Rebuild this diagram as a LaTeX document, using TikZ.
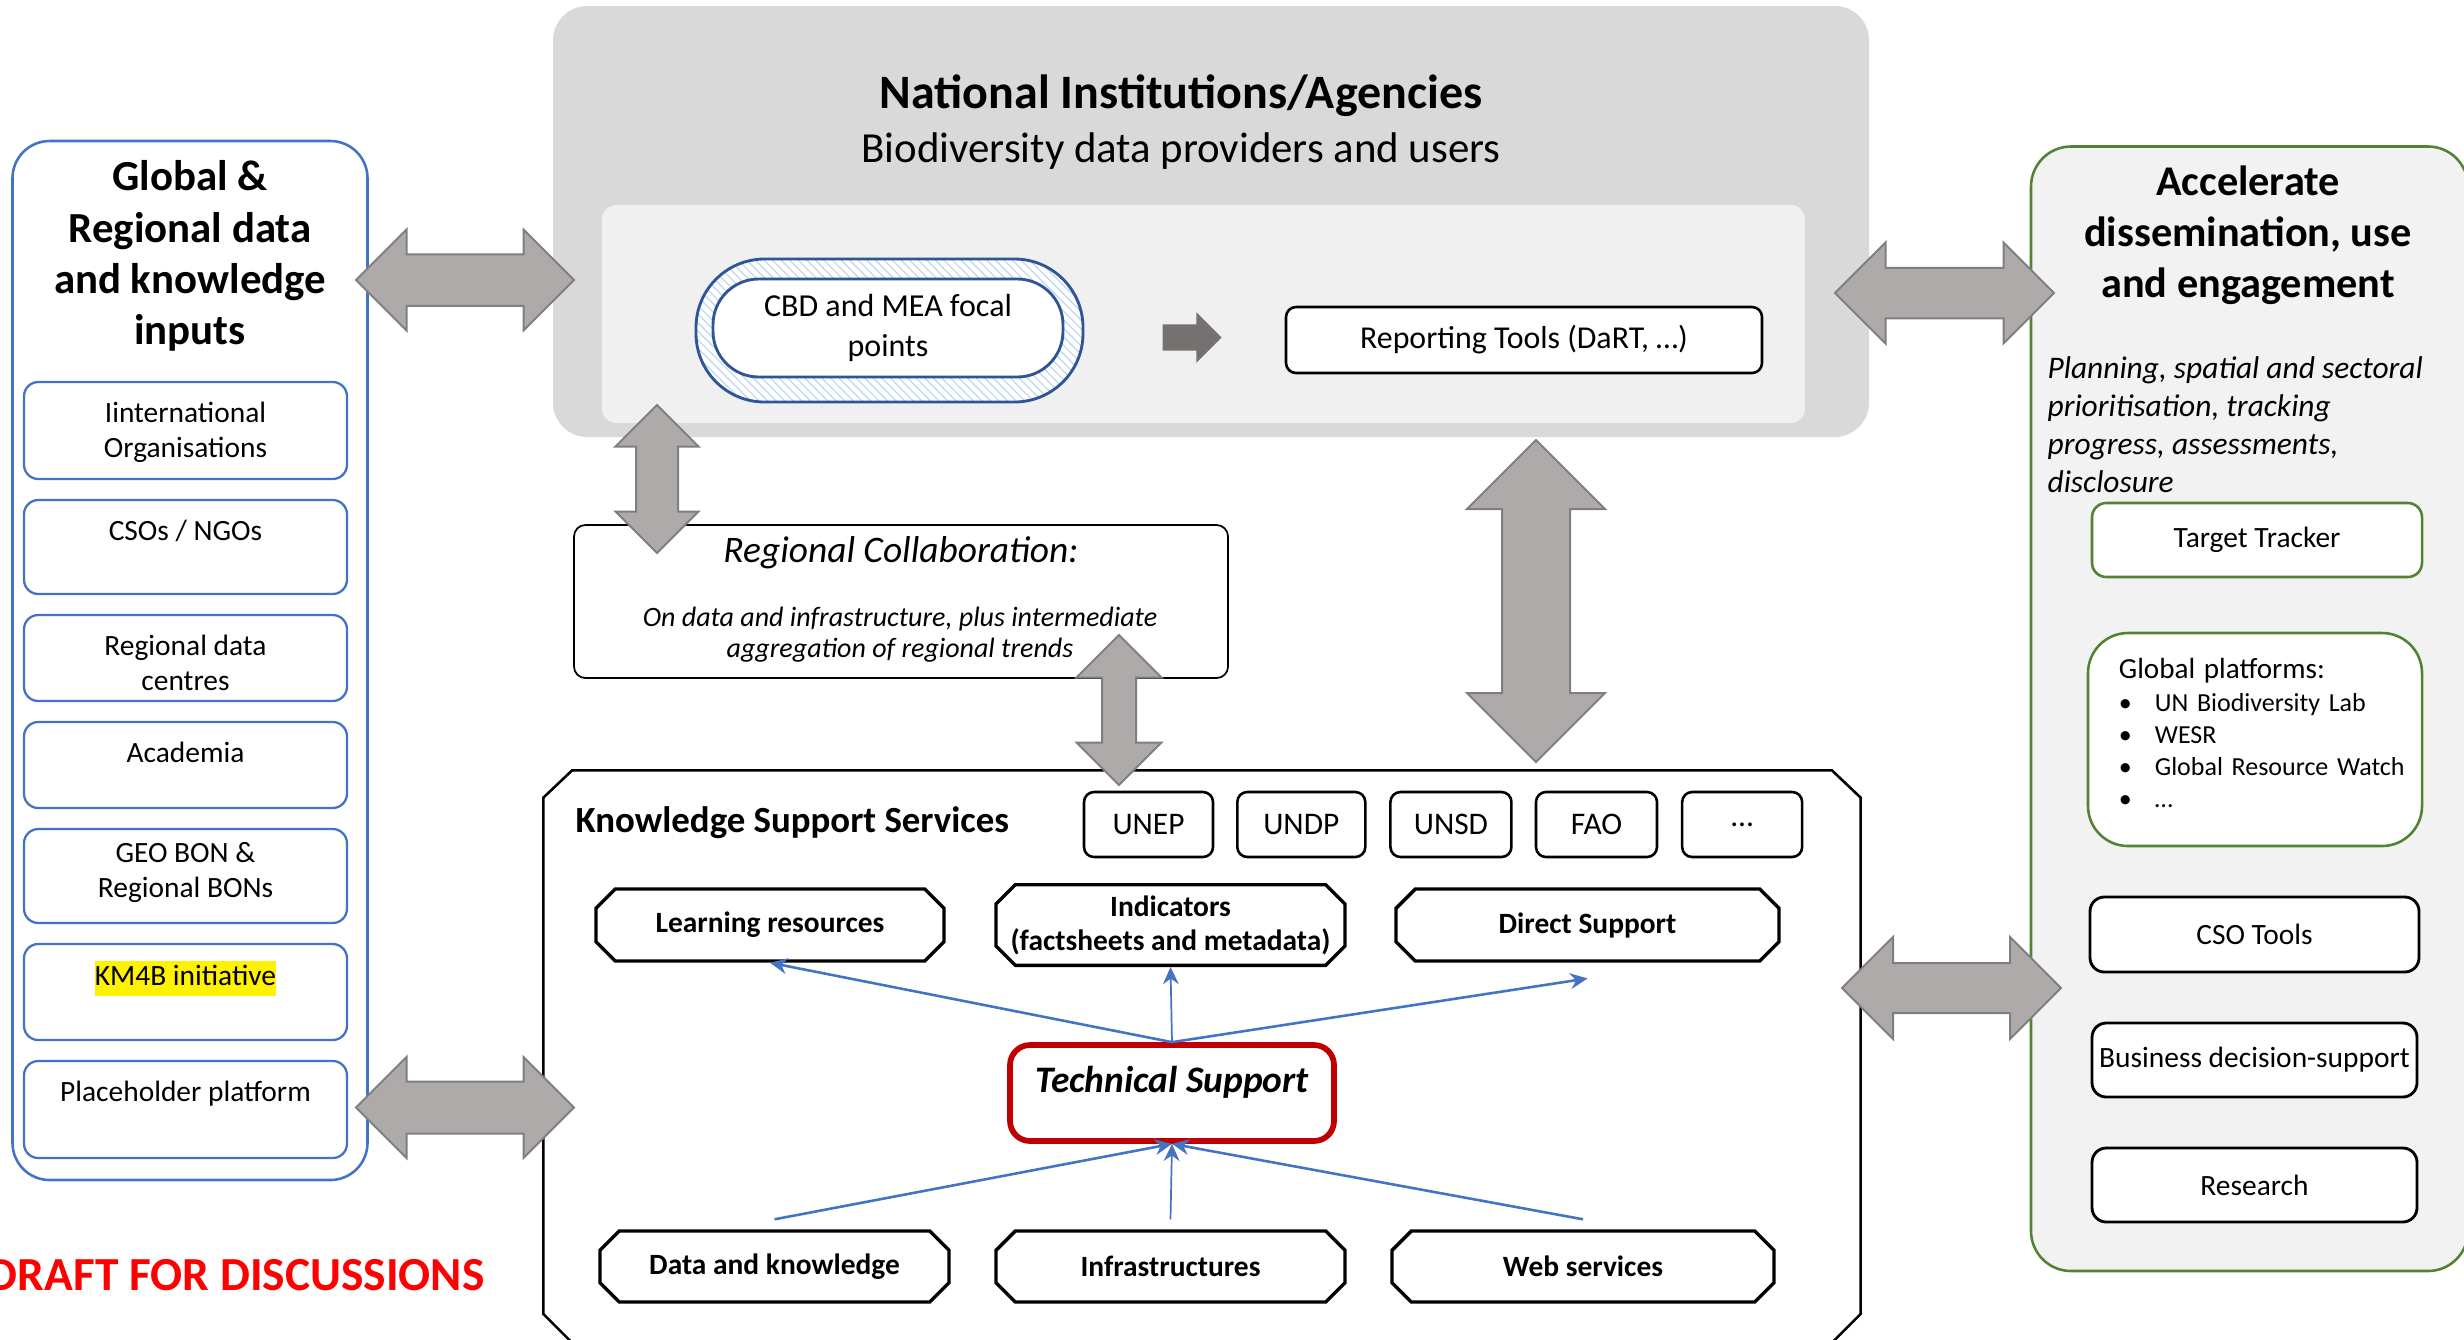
\documentclass[tikz,border=0pt]{standalone}
\usepackage{fontspec}
\setmainfont{Carlito}
\usetikzlibrary{arrows.meta,positioning,patterns,shapes.arrows,shapes.misc}

\definecolor{kmblue}{RGB}{68,114,196}
\definecolor{kmnavy}{RGB}{47,85,151}
\definecolor{kmstripe}{RGB}{189,215,238}
\definecolor{kmgreen}{RGB}{84,130,53}
\definecolor{kmred}{RGB}{192,0,0}
\definecolor{kmgray}{RGB}{217,217,217}
\definecolor{kmlight}{RGB}{240,240,240}
\definecolor{kmpanel}{RGB}{242,242,242}
\definecolor{kmarrow}{RGB}{174,170,170}
\definecolor{kmarrowline}{RGB}{127,127,127}
\definecolor{kmdark}{RGB}{118,113,113}

\tikzset{
  sz/.style 2 args={minimum width=#1*0.35pt, minimum height=#2*0.35pt},
  blockarr/.style n args={4}{double arrow, fill=kmarrow, draw=kmarrowline, line width=0.7pt,
    inner xsep=0pt, inner ysep=#3*0.35pt, minimum height=#1*0.35pt, minimum width=#2*0.35pt,
    double arrow head extend=#4*0.35pt}
}

\begin{document}
\begin{tikzpicture}[x=0.35pt, y=-0.35pt,
  inbox/.style={draw=kmblue, line width=0.8pt, rounded corners=5pt, fill=white, inner sep=0pt},
  intext/.style={font=\fontsize{10.3}{12.25}\selectfont, align=center, anchor=north, inner sep=0pt},
  orgbox/.style={draw, line width=0.9pt, rounded corners=3.5pt, fill=white, inner sep=0pt,
    minimum height=65*0.35pt, font=\fontsize{11}{12}\selectfont},
  svc/.style={chamfered rectangle, chamfered rectangle xsep=3pt, chamfered rectangle ysep=3.75pt,
    draw, line width=1.2pt, fill=white, inner sep=0pt, align=center, font=\bfseries\fontsize{10.3}{11.9}\selectfont},
  gbox/.style={draw=kmgreen, line width=0.9pt, rounded corners=5pt, fill=white, inner sep=0pt,
    font=\fontsize{10.3}{12.25}\selectfont},
  kbox/.style={draw=black, line width=1pt, rounded corners=5pt, fill=white, inner sep=0pt,
    font=\fontsize{10.3}{12.25}\selectfont},
  bluearr/.style={draw=kmblue, line width=0.9pt, -{Stealth[length=6pt, width=5.5pt]}}]
  \useasboundingbox (0,0) rectangle (2464,1339);

  % Global and regional inputs
  \node[draw=kmblue, line width=0.9pt, rounded corners=13pt, sz={355}{1039}] (gk) at (190,660.5) {};
  \node[font=\bfseries\fontsize{15}{18}\selectfont, align=center, anchor=north, inner sep=0pt] (gkt) at (190,160)
    {Global \&\\Regional data\\and knowledge\\inputs};
  \node[inbox, sz={323}{97}] (iorg) at (185.5,430.5) {};
  \node[intext] (iorgt) at ([shift={(0,21)}]iorg.north) {Iinternational\\Organisations};
  \node[inbox, sz={323}{94}] (icso) at (185.5,547) {};
  \node[intext] (icsot) at ([shift={(0,21)}]icso.north) {CSOs / NGOs};
  \node[inbox, sz={323}{86}] (irdc) at (185.5,658) {};
  \node[intext] (irdct) at ([shift={(0,21)}]irdc.north) {Regional data\\centres};
  \node[inbox, sz={323}{86}] (iacad) at (185.5,765) {};
  \node[intext] (iacadt) at ([shift={(0,21)}]iacad.north) {Academia};
  \node[inbox, sz={323}{94}] (igeo) at (185.5,876) {};
  \node[intext] (igeot) at ([shift={(0,14)}]igeo.north) {GEO BON \&\\Regional BONs};
  \node[inbox, sz={323}{96}] (ikm) at (185.5,992) {};
  \node[intext] (ikmt) at ([shift={(0,18)}]ikm.north) {{\fboxsep=0pt\colorbox{yellow}{\strut KM4B initiative}}};
  \node[inbox, sz={323}{97}] (ipl) at (185.5,1109.5) {};
  \node[intext] (iplt) at ([shift={(0,21)}]ipl.north) {Placeholder platform};

  \node[font=\bfseries\fontsize{16.6}{18}\selectfont, text=red, anchor=base east, inner sep=0pt] (draft) at (485,1290)
    {DRAFT FOR DISCUSSIONS};

  % National institutions
  \node[fill=kmgray, rounded corners=12pt, sz={1316}{431}] (nat) at (1211,221.5) {};
  \node[font=\bfseries\fontsize{16.8}{18}\selectfont, anchor=base, inner sep=0pt] (natt) at (1181,108)
    {National Institutions/Agencies};
  \node[font=\fontsize{15}{18}\selectfont, anchor=base, inner sep=0pt] (nats) at (1181,162)
    {Biodiversity data providers and users};
  \node[fill=kmlight, rounded corners=5pt, sz={1203}{218}] (natin) at (1203.5,314) {};
  \node[draw=kmnavy, line width=1pt, rounded corners=24pt, preaction={fill=white},
    pattern=north west lines, pattern color=kmstripe, sz={387}{143}] (cbdo) at (889.5,330.5) {};
  \node[draw=kmnavy, line width=1pt, rounded corners=16pt, fill=white, sz={350}{98}, inner sep=0pt,
    align=center, font=\fontsize{11.2}{14}\selectfont] (cbd) at (888,328) {CBD and MEA focal\\points};
  \node[single arrow, fill=kmdark, inner xsep=0pt, inner ysep=12.5*0.35pt, minimum height=59*0.35pt,
    minimum width=49*0.35pt, single arrow head extend=12*0.35pt] (cbdarr) at (1185.5,337.5) {};
  \node[draw, line width=0.9pt, rounded corners=3.5pt, fill=white, sz={476}{66}, inner sep=0pt,
    font=\fontsize{11.15}{12}\selectfont] (report) at (1524,340) {Reporting Tools (DaRT, …)};

  % Regional collaboration
  \node[draw, line width=0.6pt, rounded corners=4pt, fill=white, sz={654}{153}] (reg) at (901,601.5) {};
  \node[font=\itshape\fontsize{13.1}{14}\selectfont, anchor=base, inner sep=0pt] (regt) at (901,562)
    {Regional Collaboration:};
  \node[font=\itshape\fontsize{9.8}{11}\selectfont, align=center, anchor=north, inner sep=0pt] (regb) at (900,606)
    {On data and infrastructure, plus intermediate\\aggregation of regional trends};

  % Knowledge support services
  \node[sz={1316}{571}] (kss) at (1202,1056.5) {};
  \draw[line width=0.9pt, fill=white] ([xshift=10pt]kss.north west) -- ([xshift=-10pt]kss.north east)
    -- ([yshift=-9.5pt]kss.north east) -- ([yshift=10pt]kss.south east) -- ([xshift=-10pt]kss.south east)
    -- ([xshift=10pt]kss.south west) -- ([yshift=10pt]kss.south west) -- ([yshift=-9.5pt]kss.north west) -- cycle;
  \node[font=\bfseries\fontsize{12.9}{14}\selectfont, anchor=base west, inner sep=0pt] (ksst) at (575,832)
    {Knowledge Support Services};
  \node[orgbox, minimum width=129*0.35pt] (unep) at (1148.5,824.5) {UNEP};
  \node[orgbox, minimum width=128*0.35pt, right=7.6pt of unep] (undp) {UNDP};
  \node[orgbox, minimum width=121*0.35pt, right=7.9pt of undp] (unsd) {UNSD};
  \node[orgbox, minimum width=121*0.35pt, right=7.7pt of unsd] (fao) {FAO};
  \node[orgbox, minimum width=120*0.35pt, right=7.9pt of fao] (more) {…};

  \node[svc, sz={348}{72}] (learn) at (770,925) {Learning resources};
  \node[svc, sz={349}{72}] (ind) at (1170.5,925) {Indicators\\(factsheets and metadata)};
  \node[svc, sz={383}{72}] (direct) at (1587.5,925) {Direct Support};
  \node[svc, sz={349}{71}] (data) at (774.5,1266.5) {Data and knowledge};
  \node[svc, sz={349}{71}] (infra) at (1170.5,1266.5) {Infrastructures};
  \node[svc, sz={382}{71}] (web) at (1583,1266.5) {Web services};
  \node[draw=kmred, line width=2pt, rounded corners=7pt, fill=white, sz={324}{96}, inner sep=0pt, text depth=9.5pt,
    font=\bfseries\itshape\fontsize{13.1}{14}\selectfont] (tech) at (1172,1093) {Technical Support};

  \draw[bluearr] (tech.north) -- (learn.south);
  \draw[bluearr, line width=0.6pt] (tech.north) -- (ind.south);
  \draw[bluearr] (tech.north) -- ([yshift=-5.5pt]direct.south);
  \draw[bluearr] ([yshift=3.5pt]data.north) -- (tech.south);
  \draw[bluearr, line width=0.6pt] ([yshift=3.5pt]infra.north) -- (tech.south);
  \draw[bluearr] ([yshift=3.5pt]web.north) -- (tech.south);

  % Dissemination and use
  \node[draw=kmgreen, fill=kmpanel, line width=0.9pt, rounded corners=14pt, sz={437}{1124.5}] (acc) at (2249.5,708.75) {};
  \node[font=\bfseries\fontsize{14.8}{17.85}\selectfont, align=center, anchor=north, inner sep=0pt] (acct) at (2248,165)
    {Accelerate\\dissemination, use\\and engagement};
  \node[font=\itshape\fontsize{11}{13.3}\selectfont, align=left, anchor=north west, inner sep=0pt] (accs) at (2047,356)
    {Planning, spatial and sectoral\\prioritisation, tracking\\progress, assessments,\\disclosure};
  \node[gbox, sz={330}{74}] (tt) at (2257,540) {Target Tracker};
  \node[gbox, rounded corners=14pt, sz={334}{213}, text width=310*0.35pt, align=left,
    font=\fontsize{9.1}{11.2}\selectfont] (gp) at (2255,739.5)
    {\hspace*{6.6pt}{\fontsize{10.2}{12}\selectfont Global platforms:}\\[0.3pt]
     \hspace*{6.6pt}\makebox[12.6pt][l]{\textbullet}UN Biodiversity Lab\\
     \hspace*{6.6pt}\makebox[12.6pt][l]{\textbullet}WESR\\
     \hspace*{6.6pt}\makebox[12.6pt][l]{\textbullet}Global Resource Watch\\
     \hspace*{6.6pt}\makebox[12.6pt][l]{\textbullet}…\rule[-4.4pt]{0pt}{4.4pt}};
  \node[kbox, sz={329}{75}] (cso) at (2254.5,934.5) {CSO Tools};
  \node[kbox, sz={325}{74}] (bds) at (2254.5,1060) {Business decision-support};
  \node[kbox, sz={325}{74}] (res) at (2254.5,1185) {Research};

  % Block arrows
  \node[blockarr={218}{99}{24.75}{24.75}] (alt) at (465,280) {};
  \node[blockarr={218}{99}{25}{24.5}] (alb) at (465,1107.5) {};
  \node[blockarr={219}{99}{24.25}{25.25}] (art) at (1944.5,293) {};
  \node[blockarr={219}{100}{24}{26}] (arb) at (1951.5,988) {};
  \node[blockarr={148}{81}{20}{20.5}, rotate=90] (av1) at (657,479) {};
  \node[blockarr={150}{83}{16}{25.5}, rotate=90] (av2) at (1119,710) {};
  \node[blockarr={322}{136}{33}{35}, rotate=90] (av3) at (1536,601) {};
\end{tikzpicture}
\end{document}
